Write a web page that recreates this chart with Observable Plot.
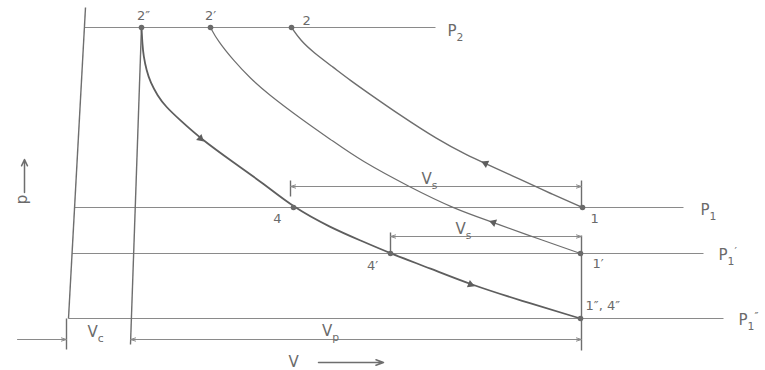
<!DOCTYPE html>
<html>
<head>
<meta charset="utf-8">
<script src="https://cdn.jsdelivr.net/npm/d3@7"></script>
<script src="https://cdn.jsdelivr.net/npm/@observablehq/plot@0.6"></script>
<style>
  html, body { margin: 0; padding: 0; background: #fff; }
  #chart { width: 765px; height: 370px; overflow: hidden; }
</style>
</head>
<body>
<div id="chart"></div>
<script>
// Units: V = swept-volume units (0 near cylinder head), p = pressure units
const xDomain = [-14, 139];
const yDomain = [-2.5, 34.5];

// Pressure levels (p) and the V extent of each isobar line
const pressureLevels = [
  { name: "P_{2}",      p: 31.8, v0: 2.8,  v1: 73.0 },
  { name: "P_{1}",      p: 13.8, v0: 0.8,  v1: 122.6 },
  { name: "P_{1}^{′}",  p: 9.2,  v0: 0.3,  v1: 126.6 },
  { name: "P_{1}^{″}",  p: 2.7,  v0: -0.4, v1: 130.6 }
];
const pressureLabelV = [75.4, 126.0, 129.6, 133.6];
const pressureLabelP = [31.4, 13.5, 9.0, 2.5];

// Compression 2 -> 1
const curve2to1 = [
  [44.2, 31.8], [46, 30.5], [48.6, 29.3], [52.6, 27.8], [56, 26.5], [59.4, 25.3],
  [66, 23.0], [73.4, 20.6], [79.4, 19.0], [83, 18.2], [90, 16.6], [96, 15.2], [102.4, 13.8]
];
// Compression 2' -> 1'
const curve2pto1p = [
  [28, 31.8], [29.4, 30.5], [32.6, 28.5], [36, 26.7], [39.4, 25.2], [46, 22.7], [52.6, 20.4],
  [58, 18.5], [68, 15.8], [76.6, 13.7], [84.6, 12.3], [90, 11.3], [102, 9.2]
];
// Re-expansion 2'' -> 4 -> 4' -> 4''
const curve2ppto4pp = [
  [14.2, 31.8], [14.4, 30], [14.6, 29], [15.2, 27.5], [16, 26.3], [17.4, 25], [19, 23.9],
  [22, 22.5], [26, 20.7], [32.6, 18.3], [38.6, 16.2], [44.6, 13.8], [52, 11.8], [58, 10.5],
  [64, 9.2], [72, 7.7], [80, 6.1], [90, 4.5], [102, 2.7]
];

// State points
const stateNames = ["2″", "2′", "2", "1", "1′", "1″, 4″", "4", "4′"];
const stateV = [14.2, 28, 44.2, 102.4, 102, 102, 44.6, 64];
const stateP = [31.8, 31.8, 31.8, 13.8, 9.2, 2.7, 13.8, 9.2];
const stateLabelV = [14.6, 28, 46.4, 104, 104.4, 103, 41.4, 60.4];
const stateLabelP = [33.0, 33.0, 32.5, 12.7, 8.2, 4.0, 12.7, 8.0];
const stateLabelAnchor = ["middle", "middle", "start", "start", "start", "start", "middle", "middle"];

// Straight construction lines: cylinder-head axis, clearance line, ticks, stroke-end line
const axisLine = [[3.0, 33.8], [-0.4, 2.7]];
const clearanceLine = [[14.2, 31.9], [12.0, 0.1]];
const vcTick = [[-0.8, 2.7], [-0.8, -0.4]];
const strokeEndUpper = [[102.2, 16.5], [102.2, 13.8]];
const strokeEndLower = [[102.2, 11.0], [102.2, -0.5]];
const vsUpperTick = [[44, 16.5], [44, 14.9]];
const vsLowerTick = [[64, 11.3], [64, 9.2]];

// Dimension lines (arrowheads at both ends a and b)
const dimensions = [
  { name: "V_{s}", p: 15.9, a: 44, b: 102.2, lv: 71.8, lp: 16.6 },
  { name: "V_{s}", p: 10.9, a: 64, b: 102.2, lv: 78.6, lp: 11.6 },
  { name: "V_{p}", p: 0.6,  a: 12, b: 102.2, lv: 52.0, lp: 1.4 }
];
const vcArrow = { name: "V_{c}", p: 0.6, from: -10.6, to: -0.8, lv: 5.0, lp: 1.3 };

// Direction arrows on the curves: [curve, index from, index to] (head sits at "to")
const flowMarks = [
  [curve2ppto4pp, 7, 8],
  [curve2ppto4pp, 15, 16],
  [curve2to1, 10, 9],
  [curve2pto1p, 11, 10]
];

const W = 765, H = 370;
const sx = Plot.scale({ x: { domain: xDomain, range: [0, W] } });
const sy = Plot.scale({ y: { domain: yDomain, range: [H, 0] } });

const toRows = (pts) => pts.map(([V, p]) => ({ V, p }));
const seg = (pts) => ({ x1: pts[0][0], y1: pts[0][1], x2: pts[1][0], y2: pts[1][1] });

const lineColor = "#6e6e6e";
const thinColor = "#8a8a8a";
const textColor = "#6a6a6a";

const segments = [axisLine, clearanceLine, vcTick, strokeEndUpper, strokeEndLower, vsUpperTick, vsLowerTick].map(seg);
const isobars = pressureLevels.map(d => ({ x1: d.v0, x2: d.v1, y1: d.p, y2: d.p }));

const dimArrows = [];
dimensions.forEach(d => {
  const mid = (d.a + d.b) / 2;
  dimArrows.push({ x1: mid, x2: d.a, y1: d.p, y2: d.p });
  dimArrows.push({ x1: mid, x2: d.b, y1: d.p, y2: d.p });
});
dimArrows.push({ x1: vcArrow.from, x2: vcArrow.to, y1: vcArrow.p, y2: vcArrow.p });

const flowRows = flowMarks.map(([c, i, j]) => {
  const a = c[i], b = c[j];
  const dx = sx.apply(b[0]) - sx.apply(a[0]);
  const dy = sy.apply(b[1]) - sy.apply(a[1]);
  return { V: b[0], p: b[1], rot: Math.atan2(dx, -dy) * 180 / Math.PI };
});

const stateRows = stateNames.map((n, i) => ({ n, V: stateV[i], p: stateP[i] }));
const stateLabelRows = stateNames.map((n, i) => ({ n, V: stateLabelV[i], p: stateLabelP[i], anchor: stateLabelAnchor[i] }));
const pressureLabelRows = pressureLevels.map((d, i) => ({ n: d.name, V: pressureLabelV[i], p: pressureLabelP[i] }));
const dimLabelRows = dimensions.map(d => ({ n: d.name, V: d.lv, p: d.lp })).concat([{ n: vcArrow.name, V: vcArrow.lv, p: vcArrow.lp }]);

const plot = Plot.plot({
  width: W,
  height: H,
  margin: 0,
  x: { domain: xDomain, axis: null },
  y: { domain: yDomain, axis: null },
  style: { background: "#fff", fontFamily: "DejaVu Sans, sans-serif" },
  marks: [
    Plot.link(isobars, { x1: "x1", y1: "y1", x2: "x2", y2: "y2", stroke: thinColor, strokeWidth: 1 }),
    Plot.link(segments, { x1: "x1", y1: "y1", x2: "x2", y2: "y2", stroke: lineColor, strokeWidth: 1.4 }),
    Plot.arrow(dimArrows, { x1: "x1", y1: "y1", x2: "x2", y2: "y2", stroke: thinColor, strokeWidth: 1, headLength: 8, headAngle: 35 }),
    Plot.line(toRows(curve2to1), { x: "V", y: "p", curve: "basis", stroke: lineColor, strokeWidth: 1.4 }),
    Plot.line(toRows(curve2pto1p), { x: "V", y: "p", curve: "basis", stroke: lineColor, strokeWidth: 1.2 }),
    Plot.line(toRows(curve2ppto4pp), { x: "V", y: "p", curve: "basis", stroke: "#5e5e5e", strokeWidth: 1.8 }),
    Plot.dot(flowRows, { x: "V", y: "p", rotate: "rot", symbol: "triangle2", r: 3.8, fill: "#5e5e5e", stroke: "none" }),
    Plot.dot(stateRows, { x: "V", y: "p", r: 2.8, fill: "#6a6a6a", stroke: "none" }),
    Plot.text(stateLabelRows.filter(d => d.anchor === "middle"), { x: "V", y: "p", text: "n", fontSize: 13, fill: textColor, textAnchor: "middle" }),
    Plot.text(stateLabelRows.filter(d => d.anchor === "start"), { x: "V", y: "p", text: "n", fontSize: 13, fill: textColor, textAnchor: "start" }),
    Plot.text(pressureLabelRows, { x: "V", y: "p", text: "n", fontSize: 15, fill: textColor, textAnchor: "start" }),
    Plot.text(dimLabelRows, { x: "V", y: "p", text: "n", fontSize: 15, fill: textColor, textAnchor: "middle" }),
    // axis annotations
    Plot.text([{ n: "p", V: -9.6, p: 14.6 }], { x: "V", y: "p", text: "n", rotate: -90, fontSize: 15, fill: textColor }),
    Plot.arrow([{ x1: -9.2, x2: -9.2, y1: 15.3, y2: 18.6 }], { x1: "x1", y1: "y1", x2: "x2", y2: "y2", stroke: lineColor, strokeWidth: 1.5, headLength: 7, headAngle: 50 }),
    Plot.text([{ n: "V", V: 44.6, p: -1.7 }], { x: "V", y: "p", text: "n", fontSize: 15, fill: textColor }),
    Plot.arrow([{ x1: 49.6, x2: 62.6, y1: -1.7, y2: -1.7 }], { x1: "x1", y1: "y1", x2: "x2", y2: "y2", stroke: lineColor, strokeWidth: 1.5, headLength: 8, headAngle: 40 })
  ]
});

// Turn _{..} and ^{..} into sub/superscript tspans (text stays real text)
const SVGNS = "http://www.w3.org/2000/svg";
plot.querySelectorAll("text").forEach(t => {
  const s = t.textContent;
  if (!/[_^]\{/.test(s)) return;
  const fs = parseFloat(t.getAttribute("font-size") || t.parentNode.getAttribute("font-size") || 14);
  const parts = s.split(/([_^]\{[^}]*\})/).filter(Boolean);
  while (t.firstChild) t.removeChild(t.firstChild);
  let cur = 0;
  parts.forEach(p => {
    let target = 0, txt = p, small = false;
    if (p.startsWith("_{")) { target = 0.3 * fs; txt = p.slice(2, -1); small = true; }
    else if (p.startsWith("^{")) { target = -0.35 * fs; txt = p.slice(2, -1); small = true; }
    const ts = document.createElementNS(SVGNS, "tspan");
    ts.setAttribute("dy", (target - cur).toFixed(2));
    if (small) ts.setAttribute("font-size", (fs * 0.72).toFixed(1));
    ts.textContent = txt;
    t.appendChild(ts);
    cur = target;
  });
});

document.getElementById("chart").appendChild(plot);
</script>
</body>
</html>
